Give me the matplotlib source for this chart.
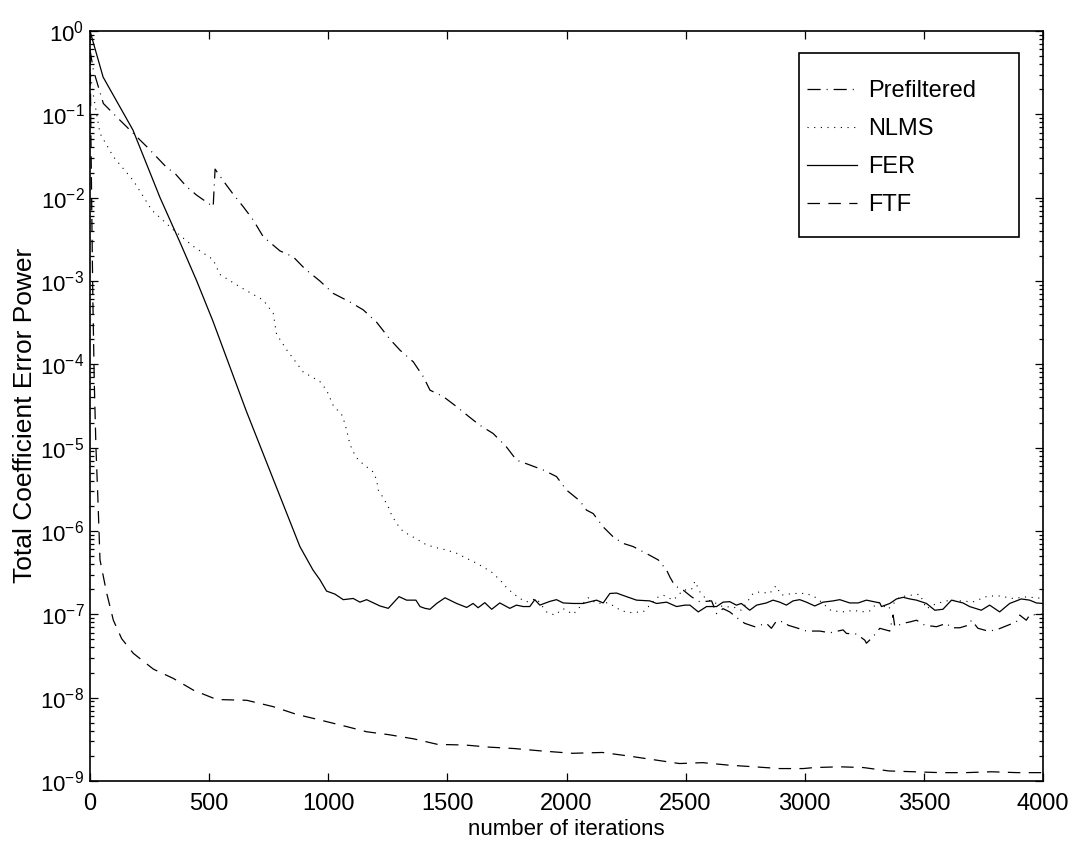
import matplotlib
matplotlib.use("Agg")
import matplotlib.pyplot as plt
from matplotlib.patches import Rectangle
from matplotlib.ticker import LogLocator, MultipleLocator, NullFormatter

plt.rcParams["font.family"] = ["Liberation Sans", "DejaVu Sans"]
plt.rcParams["mathtext.fontset"] = "custom"
plt.rcParams["mathtext.rm"] = "Liberation Sans"
plt.rcParams["mathtext.it"] = "Liberation Sans:italic"
plt.rcParams["mathtext.default"] = "regular"
plt.rcParams["axes.unicode_minus"] = False

# values
pre_x = [0, 14, 56, 112, 182, 238, 322, 357, 406, 448, 517, 525, 559, 601, 643,
         685, 727, 797, 853, 902, 965, 1021, 1091, 1147, 1203, 1259, 1301, 1357,
         1399, 1427, 1483, 1539, 1595, 1636, 1692, 1748, 1790, 1846, 1902, 1958,
         2000, 2056, 2084, 2112, 2154, 2196, 2238, 2280, 2350, 2385, 2420, 2434,
         2455, 2490, 2525, 2560, 2609, 2630, 2657, 2685, 2720, 2748, 2790, 2839,
         2860, 2881, 2916, 2930, 2972, 3007, 3063, 3105, 3161, 3175, 3217, 3252,
         3259, 3287, 3315, 3357, 3371, 3378, 3413, 3441, 3469, 3504, 3553, 3595,
         3616, 3651, 3686, 3700, 3727, 3769, 3804, 3853, 3888, 3902, 3930, 3944,
         3986, 4000]
pre_y = [0.6, 0.34, 0.135, 0.093, 0.059, 0.041, 0.023, 0.0195, 0.0135, 0.0107,
         7.8e-3, 2.2e-2, 1.6e-2, 1.1e-2, 7.8e-3, 5.4e-3, 3.4e-3, 2.3e-3, 1.95e-3,
         1.4e-3, 1.0e-3, 7.1e-4, 5.6e-4, 4.5e-4, 3.2e-4, 2.0e-4, 1.48e-4, 1.07e-4,
         7.1e-5, 4.9e-5, 4.1e-5, 3.1e-5, 2.3e-5, 1.86e-5, 1.48e-5, 1.02e-5, 7.1e-6,
         6.2e-6, 5.4e-6, 4.5e-6, 3.1e-6, 2.3e-6, 1.78e-6, 1.62e-6, 1.12e-6, 8.5e-7,
         7.1e-7, 6.5e-7, 5.1e-7, 4.5e-7, 3.4e-7, 2.8e-7, 2.2e-7, 1.95e-7, 1.62e-7,
         1.41e-7, 1.45e-7, 1.02e-7, 1.17e-7, 1.07e-7, 8.9e-8, 7.8e-8, 7.1e-8, 7.8e-8,
         6.8e-8, 8.3e-8, 8.1e-8, 7.4e-8, 6.8e-8, 6.3e-8, 6.3e-8, 6.0e-8, 6.5e-8,
         5.9e-8, 5.8e-8, 4.9e-8, 4.5e-8, 5.4e-8, 6.8e-8, 6.3e-8, 9.8e-8, 7.1e-8,
         7.8e-8, 8.1e-8, 8.5e-8, 7.4e-8, 7.1e-8, 7.8e-8, 6.9e-8, 6.9e-8, 7.4e-8,
         8.5e-8, 6.8e-8, 6.3e-8, 6.5e-8, 7.4e-8, 8.1e-8, 9.8e-8, 8.5e-8, 9.8e-8,
         1.0e-7, 1.0e-7]

nlms_x = [0, 10, 42, 98, 182, 259, 350, 434, 517, 545, 629, 727, 769, 783, 825,
          895, 930, 965, 993, 1021, 1056, 1070, 1091, 1105, 1126, 1161, 1189, 1203,
          1210, 1231, 1252, 1266, 1287, 1315, 1343, 1378, 1413, 1455, 1497, 1539,
          1581, 1623, 1650, 1686, 1720, 1748, 1776, 1804, 1832, 1874, 1916, 1951,
          1986, 2028, 2091, 2126, 2175, 2231, 2266, 2322, 2343, 2378, 2406, 2448,
          2490, 2525, 2539, 2560, 2588, 2616, 2657, 2699, 2734, 2783, 2811, 2853,
          2879, 2902, 2951, 3007, 3049, 3112, 3168, 3203, 3238, 3273, 3308, 3350,
          3399, 3448, 3483, 3511, 3553, 3609, 3706, 3769, 3818, 3874, 3930, 4000]
nlms_y = [0.35, 0.2, 0.059, 0.031, 0.016, 7.1e-3, 4.1e-3, 2.6e-3, 1.8e-3, 1.2e-3,
          8.5e-4, 5.9e-4, 4.1e-4, 2.3e-4, 1.5e-4, 8.1e-5, 7.1e-5, 6.2e-5, 4.9e-5,
          3.2e-5, 2.5e-5, 1.95e-5, 1.1e-5, 8.9e-6, 7.1e-6, 5.9e-6, 5.1e-6, 4.1e-6,
          3.1e-6, 2.5e-6, 1.95e-6, 1.55e-6, 1.23e-6, 9.8e-7, 8.9e-7, 7.8e-7, 6.8e-7,
          6.3e-7, 5.9e-7, 5.4e-7, 4.7e-7, 4.1e-7, 3.7e-7, 3.2e-7, 2.6e-7, 2.1e-7,
          1.78e-7, 1.55e-7, 1.41e-7, 1.55e-7, 1.07e-7, 9.8e-8, 1.17e-7, 1.0e-7,
          1.58e-7, 1.35e-7, 1.38e-7, 1.1e-7, 1.05e-7, 1.07e-7, 1.23e-7, 1.58e-7,
          1.7e-7, 1.48e-7, 1.95e-7, 2.0e-7, 2.5e-7, 1.86e-7, 1.5e-7, 1.41e-7,
          1.23e-7, 1.23e-7, 1.12e-7, 1.78e-7, 1.86e-7, 1.78e-7, 2.2e-7, 1.7e-7,
          1.78e-7, 1.78e-7, 1.58e-7, 1.1e-7, 1.07e-7, 1.12e-7, 1.07e-7, 1.1e-7,
          1.41e-7, 1.15e-7, 1.62e-7, 1.7e-7, 1.74e-7, 1.17e-7, 1.35e-7, 1.48e-7,
          1.41e-7, 1.66e-7, 1.66e-7, 1.55e-7, 1.62e-7, 1.55e-7]

fer_x = [0, 55, 180, 294, 378, 448, 516, 655, 881, 936, 965, 993, 1028, 1063,
         1105, 1133, 1161, 1217, 1252, 1297, 1329, 1368, 1385, 1406, 1427, 1455,
         1490, 1539, 1581, 1608, 1629, 1657, 1686, 1720, 1762, 1790, 1818, 1846,
         1867, 1888, 1930, 1958, 1986, 2028, 2070, 2126, 2154, 2182, 2210, 2252,
         2294, 2350, 2378, 2420, 2462, 2497, 2518, 2553, 2588, 2630, 2657, 2685,
         2713, 2734, 2769, 2798, 2839, 2867, 2895, 2923, 2951, 2979, 3007, 3042,
         3077, 3119, 3147, 3189, 3224, 3259, 3315, 3322, 3357, 3385, 3413, 3441,
         3469, 3511, 3546, 3580, 3616, 3664, 3692, 3741, 3776, 3818, 3860, 3909,
         3944, 3972, 4000]
fer_y = [1.0, 0.28, 0.065, 1.0e-2, 2.9e-3, 1.0e-3, 3.3e-4, 2.8e-5, 6.5e-7, 3.4e-7,
         2.6e-7, 1.9e-7, 1.75e-7, 1.5e-7, 1.55e-7, 1.4e-7, 1.5e-7, 1.26e-7, 1.18e-7,
         1.63e-7, 1.48e-7, 1.48e-7, 1.24e-7, 1.18e-7, 1.15e-7, 1.35e-7, 1.58e-7,
         1.35e-7, 1.21e-7, 1.35e-7, 1.2e-7, 1.38e-7, 1.15e-7, 1.37e-7, 1.18e-7,
         1.29e-7, 1.24e-7, 1.24e-7, 1.5e-7, 1.29e-7, 1.43e-7, 1.5e-7, 1.37e-7,
         1.35e-7, 1.35e-7, 1.48e-7, 1.37e-7, 1.78e-7, 1.8e-7, 1.63e-7, 1.48e-7,
         1.45e-7, 1.35e-7, 1.4e-7, 1.24e-7, 1.29e-7, 1.29e-7, 1.07e-7, 1.24e-7,
         1.24e-7, 1.4e-7, 1.42e-7, 1.29e-7, 1.35e-7, 1.12e-7, 1.29e-7, 1.37e-7,
         1.48e-7, 1.4e-7, 1.29e-7, 1.45e-7, 1.5e-7, 1.4e-7, 1.26e-7, 1.4e-7,
         1.45e-7, 1.5e-7, 1.37e-7, 1.37e-7, 1.48e-7, 1.37e-7, 1.24e-7, 1.35e-7,
         1.53e-7, 1.6e-7, 1.53e-7, 1.48e-7, 1.35e-7, 1.12e-7, 1.15e-7, 1.48e-7,
         1.37e-7, 1.24e-7, 1.12e-7, 1.29e-7, 1.07e-7, 1.35e-7, 1.53e-7, 1.48e-7,
         1.37e-7, 1.35e-7]

ftf_x = [0, 4, 8, 12, 18, 25, 33, 42, 70, 98, 133, 182, 266, 350, 434, 532, 658,
         769, 867, 965, 1077, 1161, 1253, 1360, 1459, 1576, 1675, 1782, 1890, 2025,
         2150, 2258, 2366, 2474, 2572, 2680, 2788, 2896, 2994, 3039, 3147, 3246,
         3353, 3461, 3569, 3676, 3784, 3892, 4000]
ftf_y = [1.0, 0.05, 5e-3, 6e-4, 6e-5, 1e-5, 2.5e-6, 4.5e-7, 1.8e-7, 8.5e-8, 5.1e-8,
         3.4e-8, 2.2e-8, 1.7e-8, 1.23e-8, 9.5e-9, 9.3e-9, 7.8e-9, 6.3e-9, 5.4e-9,
         4.5e-9, 3.9e-9, 3.6e-9, 3.2e-9, 2.75e-9, 2.7e-9, 2.55e-9, 2.45e-9, 2.3e-9,
         2.15e-9, 2.2e-9, 2.0e-9, 1.8e-9, 1.62e-9, 1.66e-9, 1.55e-9, 1.48e-9,
         1.41e-9, 1.41e-9, 1.45e-9, 1.48e-9, 1.45e-9, 1.32e-9, 1.29e-9, 1.26e-9,
         1.26e-9, 1.29e-9, 1.26e-9, 1.26e-9]

labels = ["Prefiltered", "NLMS", "FER", "FTF"]

W, H = 1077, 846
fig = plt.figure(figsize=(W / 100, H / 100), dpi=100)
# axes box in pixels: left 90, right 1043, top 31, bottom 781
ax = fig.add_axes([90 / W, 1 - 781 / H, 953 / W, 750 / H])

lw = 0.9
ax.semilogy(pre_x, pre_y, color="black", lw=lw, dashes=(10.5, 4.8, 0.8, 4.8), label=labels[0])
ax.semilogy(nlms_x, nlms_y, color="black", lw=0.8, dashes=(1.0, 5.0), label=labels[1])
ax.semilogy(fer_x, fer_y, color="black", lw=lw, linestyle="-", label=labels[2])
ax.semilogy(ftf_x, ftf_y, color="black", lw=lw, dashes=(10, 6.7), label=labels[3])

ax.set_xlim(0, 4000)
ax.set_ylim(1e-9, 1)
ax.xaxis.set_major_locator(MultipleLocator(500))
ax.yaxis.set_major_locator(LogLocator(base=10, numticks=12))
ax.yaxis.set_minor_locator(LogLocator(base=10, subs=range(2, 10), numticks=12))
ax.yaxis.set_minor_formatter(NullFormatter())

ax.tick_params(which="both", direction="in", top=True, right=True, width=0.9)
ax.tick_params(which="major", length=6)
ax.tick_params(which="minor", length=3)
ax.tick_params(axis="x", labelsize=17, pad=8.5)
ax.tick_params(axis="y", labelsize=16, pad=4)
for s in ax.spines.values():
    s.set_linewidth(1.2)

ax.set_xlabel("number of iterations", fontsize=16, labelpad=3)
ax.set_ylabel("Total Coefficient Error Power", fontsize=19)
ax.yaxis.label.set_va("center")
ax.yaxis.set_label_coords(-0.068, 0.488)

# legend box like the MATLAB one: tight at the sides, roomy top and bottom
ax.add_patch(Rectangle(((799 - 90) / 953, (781 - 237) / 750), 220 / 953, 184 / 750,
                       transform=ax.transAxes, facecolor="white", edgecolor="black",
                       lw=1.2, zorder=5))
leg = ax.legend(loc="upper left", bbox_to_anchor=((807 - 90) / 953, (781 - 80) / 750),
                borderaxespad=0, borderpad=0, fontsize=17, frameon=False,
                handlelength=2.1, handletextpad=0.5, labelspacing=0.68)
leg.set_zorder(6)

fig.savefig("out.png", dpi=100, facecolor="white")
